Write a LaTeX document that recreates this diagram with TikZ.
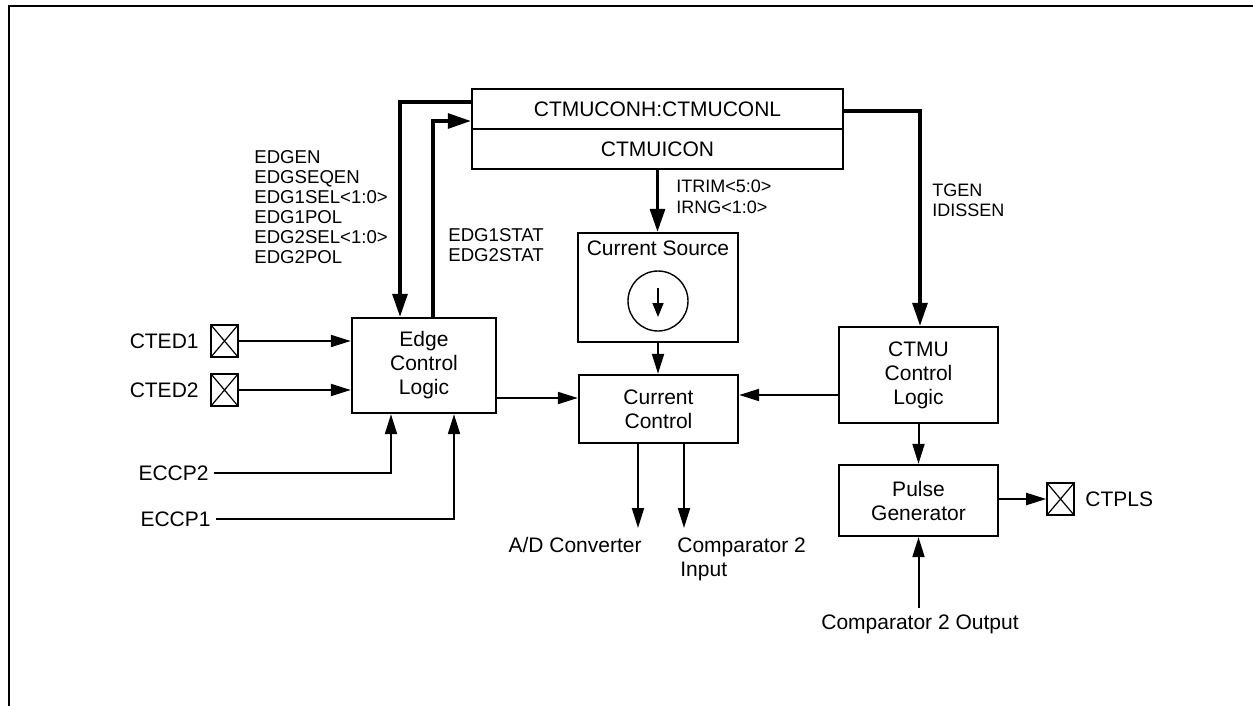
\documentclass[tikz,border=0pt]{standalone}
\usepackage{fontspec}
\setmainfont{Liberation Sans}
\usetikzlibrary{arrows.meta,calc}
\newcommand\lblfont{\fontsize{10.5}{12}\selectfont}
\newcommand\smlfont{\fontsize{9.3}{10}\selectfont}
\begin{document}
\begin{tikzpicture}[x=0.5pt,y=-0.5pt,
  box/.style={draw,line width=1.2pt,inner sep=0pt,align=center,font=\lblfont},
  pad/.style={draw,line width=0.8pt,minimum width=13.5pt,minimum height=16pt,inner sep=0pt,
    path picture={\draw[line width=0.6pt] (path picture bounding box.north west)--(path picture bounding box.south east)
      (path picture bounding box.south west)--(path picture bounding box.north east);}},
  thinarr/.style={line width=1pt,-{Triangle[length=10pt,width=6pt]}},
  thickarr/.style={line width=1.6pt,-{Triangle[length=11.5pt,width=7.5pt]}},
  lbl/.style={font=\lblfont,inner sep=0pt},
  sml/.style={font=\smlfont,align=left,inner sep=0pt,anchor=north west}]
\useasboundingbox (0,0) rectangle (1253,706);
% frame
\draw[line width=1pt] (9,706) -- (9,6) -- (1253,6);

% register block
\node[box,minimum width=185.5pt,minimum height=20pt] (regA) at (657.5,109) {CTMUCONH:CTMUCONL};
\node[box,minimum width=185.5pt,minimum height=20pt] (regB) at (657.5,149) {CTMUICON};

% blocks
\node[box,minimum width=72pt,minimum height=47.5pt] (ecl) at (424,365.5) {Edge\\Control\\Logic};
\node[box,minimum width=80pt,minimum height=54.5pt] (cs) at (658,287.5) {};
\node[lbl] (cstxt) at (658,248) {Current Source};
\node[draw,circle,line width=0.7pt,minimum size=30pt,inner sep=0pt] (src) at (658,301) {};
\node[box,minimum width=79.5pt,minimum height=34pt] (cc) at (658.5,409) {Current\\Control};
\node[box,minimum width=79.5pt,minimum height=48pt] (ctmu) at (918.5,375) {CTMU\\Control\\Logic};
\node[box,minimum width=79.5pt,minimum height=35.5pt] (pg) at (918.5,500.5) {Pulse\\Generator};

% pads
\node[pad] (cted1) at (224.5,341) {};
\node[pad] (cted2) at (224.5,390) {};
\node[pad] (ctpls) at (1060.5,499) {};

% labels
\node[lbl,anchor=east] (l1) at (199,341) {CTED1};
\node[lbl,anchor=east] (l2) at (199,390) {CTED2};
\node[lbl,anchor=east,inner xsep=2.5pt] (eccp2) at (214,473) {ECCP2};
\node[lbl,anchor=east,inner xsep=2.5pt] (eccp1) at (216,519) {ECCP1};
\node[lbl,anchor=west] (l3) at (1085,499) {CTPLS};
\node[lbl,anchor=north,inner ysep=3pt] (c2o) at (920,608) {Comparator 2 Output};
\node[lbl,anchor=east] (ad) at (642,545) {A/D Converter};
\node[lbl,anchor=north west,align=left] (c2i) at (677,537) {Comparator 2\\\hspace*{1.5pt}Input};

\node[sml] (edg) at (254,150) {EDGEN\\EDGSEQEN\\EDG1SEL<1:0>\\EDG1POL\\EDG2SEL<1:0>\\EDG2POL};
\node[sml] (stat) at (448,228) {EDG1STAT\\EDG2STAT};
\node[sml,font=\fontsize{9}{10.5}\selectfont] (itrim) at (676,180) {ITRIM<5:0>\\IRNG<1:0>};
\node[sml,font=\fontsize{9}{10}\selectfont] (tgen) at (932,184) {TGEN\\IDISSEN};

% coordinates
\coordinate (ey) at (0,398);
\coordinate (cy) at (0,395);
\coordinate (adtip) at (638,528);
\coordinate (cmptip) at (684,528);

% thick connectors
\draw[thickarr] ([yshift=3.5pt]regA.west) -| ([xshift=-12pt]ecl.north);
\draw[thickarr] ([xshift=4.5pt]ecl.north) |- ([yshift=-6pt]regA.west);
\draw[thickarr] ([yshift=-1pt]regA.east) -| ([xshift=0.75pt]ctmu.north);
\draw[thickarr] (regB.south) -- (regB.south |- cs.north);

% thin connectors
\draw[thinarr] (cs.south) -- (cs.south |- cc.north);
\draw[thinarr] (cted1.east) -- (ecl.west |- cted1.east);
\draw[thinarr] (cted2.east) -- (ecl.west |- cted2.east);
\draw[thinarr] (eccp2.east) -| ([xshift=-16.5pt]ecl.south);
\draw[thinarr] (eccp1.east) -| ([xshift=15pt]ecl.south);
\draw[thinarr] (ecl.east |- ey) -- (cc.west |- ey);
\draw[thinarr] (ctmu.west |- cy) -- (cc.east |- cy);
\draw[thinarr] (cc.south -| adtip) -- (adtip);
\draw[thinarr] (cc.south -| cmptip) -- (cmptip);
\draw[thinarr] (ctmu.south) -- (pg.north);
\draw[thinarr] (pg.east |- ctpls.west) -- (ctpls.west);
\draw[thinarr] (c2o.north -| pg.south) -- (pg.south);

% current source arrow
\draw[line width=0.8pt,-{Triangle[length=7pt,width=5.5pt]}] ([yshift=6.5pt]src.center) -- ([yshift=-8pt]src.center);
\end{tikzpicture}
\end{document}
